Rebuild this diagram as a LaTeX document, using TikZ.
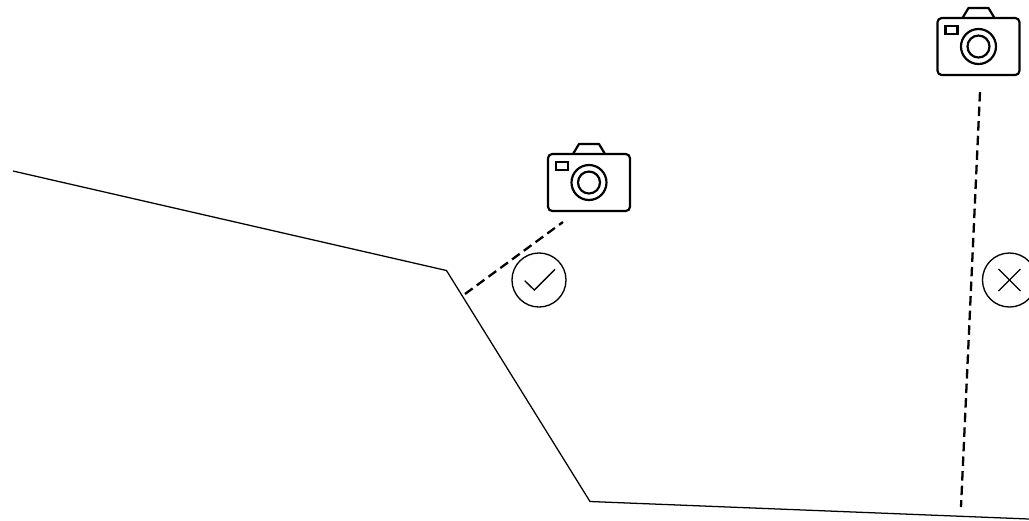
\documentclass[tikz,border=0pt]{standalone}
\usepackage{tikz}
\usetikzlibrary{calc,positioning}
\tikzset{
  terrainline/.style={black, line width=0.36pt},
  sightline/.style={black, line width=0.65pt, dash pattern=on 2.7pt off 1.45pt},
  camline/.style={black, line width=0.62pt},
  badge/.style={circle, draw=black, line width=0.38pt, minimum size=0.54cm, inner sep=0pt},
  pics/cameraicon/.style={code={
    \draw[camline, rounded corners=1.2pt] (-41,-28.5) rectangle (41,28.5);
    \draw[camline, line join=round] (-16,-28.5) -- (-10,-38.5) -- (10,-38.5) -- (16,-28.5);
    \draw[camline] (-33,-20.5) rectangle (-21,-12.5);
    \draw[camline] (0,0) circle (17.5);
    \draw[camline] (0,0) circle (11);
  }}
}
\begin{document}
\begin{tikzpicture}[x=0.01cm, y=-0.01cm]
  \useasboundingbox (0,0) rectangle (1029,520);

  % Terrain profile
  \coordinate (ridgeStart) at (13,171);
  \coordinate (ridgeTop) at (446.5,270.5);
  \coordinate (valleyFloor) at (590,501.5);
  \coordinate (floorEnd) at (1029,519);
  \draw[terrainline] (ridgeStart) -- (ridgeTop) -- (valleyFloor) -- (floorEnd);

  % Cameras
  \pic (camNear) at (589,182.5) {cameraicon};
  \pic (camFar) at (978.5,46.5) {cameraicon};

  % Lines of sight
  \coordinate (nearTop) at (563,222);
  \coordinate (nearBase) at (465,294);
  \coordinate (farTop) at (980,92);
  \coordinate (farBase) at (961,507);
  \draw[sightline] (nearBase) -- (nearTop);
  \draw[sightline] (farTop) -- (farBase);

  % Visible / blocked marks
  \node[badge] (okMark) at (539,280) {};
  \node[badge] (noMark) at (1009.5,280) {};
  \draw[terrainline, line width=0.38pt] ($(okMark.center)+(-14.3,0.7)$) -- ++(9.6,9.3) -- ++(20.7,-20.7);
  \draw[terrainline, line width=0.38pt] ($(noMark.center)+(-11,-11)$) -- ++(22,22);
  \draw[terrainline, line width=0.38pt] ($(noMark.center)+(-11,11)$) -- ++(22,-22);
\end{tikzpicture}
\end{document}
